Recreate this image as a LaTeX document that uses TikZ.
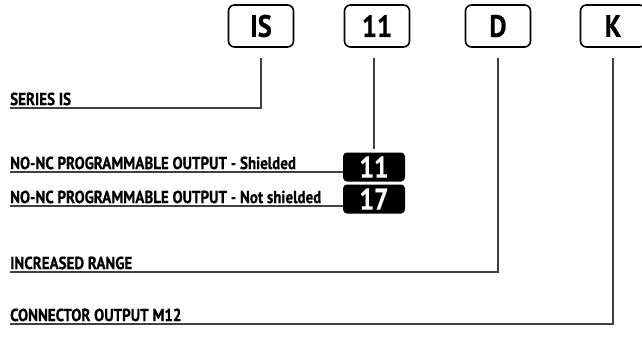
\documentclass[tikz,border=0pt]{standalone}
\usepackage{fontspec}
\setmainfont[FakeStretch=0.86]{PT Sans}
\newfontfamily\heavyfont[FakeStretch=0.86, FakeBold=0.6, UprightFont=* Bold]{PT Sans}
\usepackage{tikz}
\usetikzlibrary{positioning,calc}
\definecolor{leadgray}{HTML}{404040}
\tikzset{
  codebox/.style={draw, line width=1.6bp, rounded corners=6bp, minimum width=65bp, minimum height=42bp, font=\fontsize{31}{31}\heavyfont, inner sep=0pt},
  blackbox/.style={fill=black, rounded corners=4bp, minimum width=62bp, minimum height=29bp, text=white, font=\fontsize{30}{30}\heavyfont, inner sep=0pt},
  optlabel/.style={anchor=south west, inner xsep=0pt, inner ysep=2.5bp, font=\fontsize{17.5}{17.5}\heavyfont},
  leadline/.style={draw=leadgray, line width=1.4bp},
}
\begin{document}
\begin{tikzpicture}[x=1bp,y=-1bp]
  \useasboundingbox (0,0) rectangle (642,336);

  % Code boxes along the top
  \node[codebox] (is) at (261,26) {IS};
  \node[codebox] (c11) at (377,26) {11};
  \node[codebox] (d) at (498,26) {D};
  \node[codebox] (k) at (613,26) {K};

  % Option labels
  \node[optlabel] (series) at (10,108) {SERIES IS};
  \node[optlabel] (shield) at (10,172) {NO-NC PROGRAMMABLE OUTPUT - Shielded};
  \node[optlabel] (noshield) at (10,206) {NO-NC PROGRAMMABLE OUTPUT - Not shielded};
  \node[optlabel] (range) at (10,272) {INCREASED RANGE};
  \node[optlabel] (conn) at (10,324) {CONNECTOR OUTPUT M12};

  % Output codes
  \node[blackbox] (b11) at (374,167) {11};
  \node[blackbox] (b17) at (374,199) {17};

  % Leader lines
  \draw[leadline] (series.south west) -| ([yshift=-10bp]is.south);
  \draw[leadline] ([yshift=-10bp]c11.south -| b11.north) -- ([yshift=3bp]b11.north);
  \draw[leadline] (shield.south west) -- (shield.south west -| b11.west);
  \draw[leadline] (noshield.south west) -- (noshield.south west -| b17.west);
  \draw[leadline] (range.south west) -| ([yshift=-10bp]d.south);
  \draw[leadline] (conn.south west) -| ([yshift=-10bp]k.south);
\end{tikzpicture}
\end{document}
